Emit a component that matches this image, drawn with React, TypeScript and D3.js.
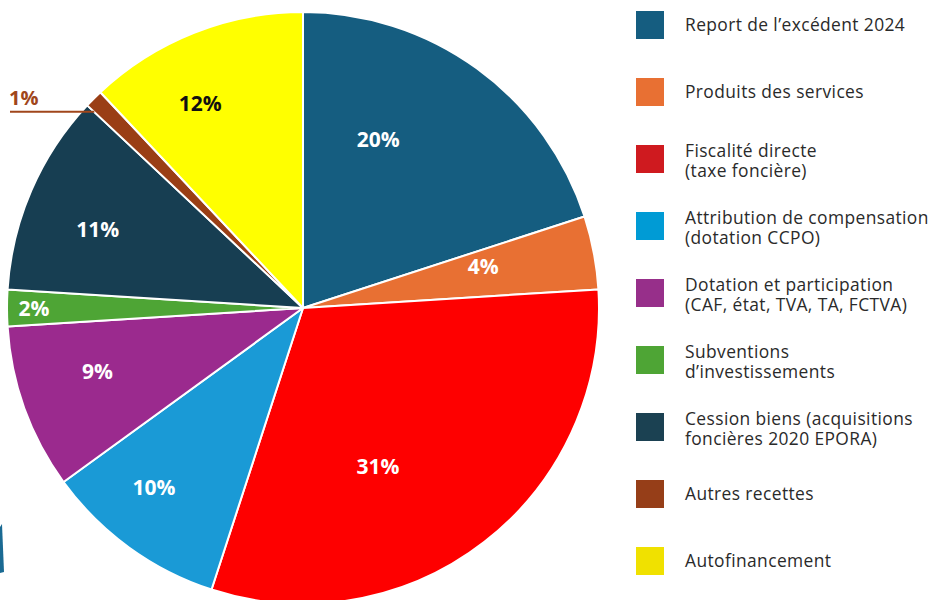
import React, { useEffect, useRef } from 'react'
import * as d3 from 'd3'

// données (en %)
const categories = [
  'Report de l’excédent 2024',
  'Produits des services',
  'Fiscalité directe|(taxe foncière)',
  'Attribution de compensation|(dotation CCPO)',
  'Dotation et participation|(CAF, état, TVA, TA, FCTVA)',
  'Subventions|d’investissements',
  'Cession biens (acquisitions|foncières 2020 EPORA)',
  'Autres recettes',
  'Autofinancement'
]
const values = [20, 4, 31, 10, 9, 2, 11, 1, 12]
const sliceColors = ['#155d80', '#e87033', '#fe0000', '#1a9ad6', '#9b2a8e', '#4ea535', '#173e52', '#9a3e15', '#ffff00']
const legendColors = ['#155d80', '#e87033', '#cf1a1f', '#009bd5', '#972f8a', '#4ea535', '#1b4152', '#963e18', '#f0e100']
const labelColors = ['#fff', '#fff', '#fff', '#fff', '#fff', '#fff', '#fff', '#a0461b', '#111']

// placement des étiquettes : décalage d'angle (deg) et rayon (px), null = étiquette externe
const labelNudge: ([number, number] | null)[] = [
  [-12, 185], [-2.3, 185], [12.4, 175], [3.8, 233], [2.8, 215], [0, 269], [-2.4, 220], null, [-5.1, 229]
]

const W = 933
const H = 600
const cx = 303
const cy = 308
const R = 296

export default function App() {
  const svgRef = useRef<SVGSVGElement>(null)

  useEffect(() => {
    document.body.style.margin = '0'
    if (!svgRef.current) return
    const svg = d3.select(svgRef.current)
    svg.selectAll('*').remove()

    const pie = d3.pie<number>().sort(null).value(d => d)
    const arcs = pie(values)
    const arc = d3.arc<d3.PieArcDatum<number>>().innerRadius(0).outerRadius(R)

    const g = svg.append('g').attr('transform', `translate(${cx},${cy})`)

    g.selectAll('path.slice')
      .data(arcs)
      .enter()
      .append('path')
      .attr('class', 'slice')
      .attr('d', arc)
      .attr('fill', (d, i) => sliceColors[i])
      .attr('stroke', '#fff')
      .attr('stroke-width', 2)
      .attr('stroke-linejoin', 'round')

    const pt = (a: number, r: number) => [r * Math.sin(a), -r * Math.cos(a)]

    // étiquettes dans les parts
    arcs.forEach((d, i) => {
      const nudge = labelNudge[i]
      const mid = (d.startAngle + d.endAngle) / 2
      if (nudge) {
        const [x, y] = pt(mid + (nudge[0] * Math.PI) / 180, nudge[1])
        g.append('text')
          .attr('x', x)
          .attr('y', y)
          .attr('text-anchor', 'middle')
          .attr('dominant-baseline', 'central')
          .style('font-family', '"Open Sans", sans-serif')
          .style('font-weight', 700)
          .style('font-size', '21px')
          .style('fill', labelColors[i])
          .text(values[i] + '%')
      } else {
        // étiquette externe avec trait de rappel
        const a = d.startAngle + (d.endAngle - d.startAngle) * 0.05
        const [ex, ey] = pt(a, R * 0.97)
        g.append('line')
          .attr('x1', 10 - cx)
          .attr('x2', ex)
          .attr('y1', ey + 1)
          .attr('y2', ey + 1)
          .attr('stroke', labelColors[i])
          .attr('stroke-width', 2)
        g.append('text')
          .attr('x', 9 - cx)
          .attr('y', ey - 6)
          .style('font-family', '"Open Sans", sans-serif')
          .style('font-weight', 700)
          .style('font-size', '20px')
          .style('fill', labelColors[i])
          .text(values[i] + '%')
      }
    })

    // petit fragment décoratif en bas à gauche
    svg.append('path')
      .attr('d', 'M0,527 L2,524 L4,572 L0,573 Z')
      .attr('fill', '#1a6a93')

    // légende
    const legendY = d3.scaleBand<number>().domain(d3.range(categories.length)).range([11, 11 + 67 * 9])
    const lg = svg.append('g')
    categories.forEach((c, i) => {
      const y0 = legendY(i)!
      lg.append('rect')
        .attr('x', 636)
        .attr('y', y0)
        .attr('width', 28)
        .attr('height', 28)
        .attr('fill', legendColors[i])
      const lines = c.split('|')
      lines.forEach((l, j) => {
        lg.append('text')
          .attr('x', 685)
          .attr('y', lines.length === 1 ? y0 + 19.5 : y0 + 11.5 + j * 20)
          .style('font-family', '"Open Sans", sans-serif')
          .style('font-size', '17.4px')
          .style('letter-spacing', '0.4px')
          .style('fill', '#2a2a2a')
          .text(l)
      })
    })
  }, [])

  return <svg ref={svgRef} width={W} height={H} style={{ display: 'block', background: '#fff' }} />
}
